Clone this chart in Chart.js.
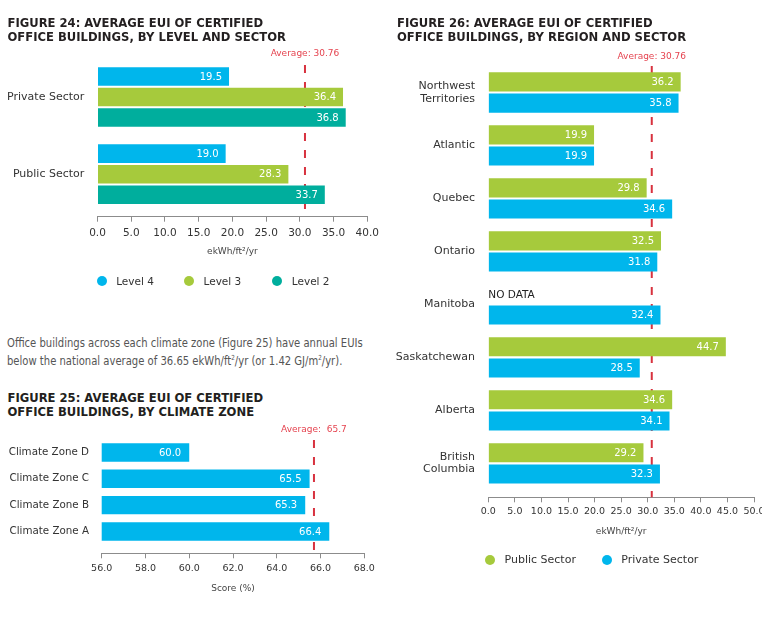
<!DOCTYPE html>
<html><head><meta charset="utf-8">
<script src="https://cdn.jsdelivr.net/npm/chart.js@4.4.1/dist/chart.umd.min.js"></script>
<style>
html,body{margin:0;padding:0;background:#fff;}
body{width:762px;height:642px;position:relative;overflow:hidden;font-family:'DejaVu Sans',sans-serif;}
canvas{position:absolute;}
.title{position:absolute;font-weight:bold;font-size:11.6px;line-height:14px;color:#231f20;letter-spacing:0;white-space:nowrap;z-index:2;}
.para{position:absolute;left:7px;top:333.5px;font-family:'DejaVu Sans Condensed','DejaVu Sans',sans-serif;font-size:12.5px;line-height:18.3px;color:#555;white-space:nowrap;z-index:2;transform:scaleX(0.892);transform-origin:0 0;}
.para sup{font-size:7px;vertical-align:5px;line-height:0;}
.lg{position:absolute;white-space:nowrap;color:#333;z-index:2;}
.dot{position:absolute;width:10px;height:10px;border-radius:50%;}
</style></head>
<body>
<canvas id="c24" width="380" height="300" style="left:0;top:0"></canvas>
<canvas id="c25" width="380" height="180" style="left:0;top:420px"></canvas>
<canvas id="c26" width="382" height="600" style="left:380px;top:0"></canvas>

<div class="title" style="left:7.5px;top:15.5px">FIGURE 24: AVERAGE EUI OF CERTIFIED<br>OFFICE BUILDINGS, BY LEVEL AND SECTOR</div>
<div class="title" style="left:397px;top:15.5px">FIGURE 26: AVERAGE EUI OF CERTIFIED<br>OFFICE BUILDINGS, BY REGION AND SECTOR</div>
<div class="title" style="left:7.5px;top:390.5px">FIGURE 25: AVERAGE EUI OF CERTIFIED<br>OFFICE BUILDINGS, BY CLIMATE ZONE</div>
<div class="para">Office buildings across each climate zone (Figure 25) have annual EUIs<br>below the national average of 36.65 ekWh/ft<sup>2</sup>/yr (or 1.42 GJ/m<sup>2</sup>/yr).</div>

<script>
// ---------- data ----------
const sectors = ['Private Sector', 'Public Sector'];
const levelNames = ['Level 4', 'Level 3', 'Level 2'];
const level4 = [19.5, 19.0];
const level3 = [36.4, 28.3];
const level2 = [36.8, 33.7];
const avg24 = 30.76;

const zones = ['Climate Zone D', 'Climate Zone C', 'Climate Zone B', 'Climate Zone A'];
const zoneScores = [60.0, 65.5, 65.3, 66.4];
const avg25 = 65.7;

const regions = [['Northwest', 'Territories'], 'Atlantic', 'Quebec', 'Ontario', 'Manitoba', 'Saskatchewan', 'Alberta', ['British', 'Columbia']];
const sectorNames = ['Public Sector', 'Private Sector'];
const publicSector = [36.2, 19.9, 29.8, 32.5, null, 44.7, 34.6, 29.2];
const privateSector = [35.8, 19.9, 34.6, 31.8, 32.4, 28.5, 34.1, 32.3];
const avg26 = 30.76;

const BLUE = '#00b6ec', GREEN = '#a6ca3c', TEAL = '#00ae9d';
const RED = '#d8323f', RED_TEXT = '#e5434f';
const FONT = 'DejaVu Sans';

// ---------- plugins ----------
const avgLine = {
  id: 'avgLine',
  beforeDatasetsDraw(chart, args, o) {
    const ctx = chart.ctx;
    const x = chart.scales.x.getPixelForValue(o.value);
    const {top, bottom} = chart.chartArea;
    ctx.save();
    ctx.strokeStyle = RED; ctx.lineWidth = 2; ctx.setLineDash([8, 9]);
    ctx.beginPath(); ctx.moveTo(x, top + o.start); ctx.lineTo(x, bottom); ctx.stroke();
    ctx.setLineDash([]);
    ctx.font = '9px "' + FONT + '"'; ctx.fillStyle = RED_TEXT;
    ctx.textAlign = 'center'; ctx.textBaseline = 'middle';
    ctx.fillText(o.label, x, top - o.labelOffset);
    ctx.restore();
  }
};
const valueLabels = {
  id: 'valueLabels',
  afterDatasetsDraw(chart, args, o) {
    const ctx = chart.ctx;
    ctx.save();
    ctx.textBaseline = 'middle';
    chart.data.datasets.forEach((ds, i) => {
      const meta = chart.getDatasetMeta(i);
      meta.data.forEach((bar, j) => {
        const v = ds.data[j];
        if (v === null || v === undefined) {
          if (o.noData && isFinite(bar.y)) {
            ctx.font = '10.5px "' + FONT + '"'; ctx.fillStyle = '#222'; ctx.textAlign = 'left';
            ctx.fillText(o.noData, chart.chartArea.left, bar.y + 1);
          }
          return;
        }
        ctx.font = '10px "' + FONT + '"'; ctx.fillStyle = '#fff'; ctx.textAlign = 'right';
        ctx.fillText(v.toFixed(1), bar.x - o.pad, bar.y + 0.5);
      });
    });
    ctx.restore();
  }
};

function xScale(min, max, step, tickSize, tickPad, height) {
  return {
    min, max,
    ticks: {stepSize: step, callback: v => Number(v).toFixed(1), font: {family: FONT, size: tickSize}, color: '#333', padding: tickPad, maxRotation: 0, autoSkip: false},
    grid: {drawOnChartArea: false, drawTicks: true, tickLength: 5, color: '#8c8c8c'},
    border: {display: true, color: '#8c8c8c'},
    title: {display: true, text: 'ekWh/ft²/yr', font: {family: FONT, size: 9}, color: '#444', padding: {top: 4, bottom: 4}},
    afterFit: s => { s.height = height; s.paddingLeft = 0; s.paddingRight = 0; }
  };
}
function yScale(size, pad, width, extra, lh) {
  return {
    grid: {display: false, drawTicks: false}, border: {display: false},
    ticks: {font: {family: FONT, size: size, lineHeight: lh || 1.2}, color: '#333', padding: pad, autoSkip: false},
    afterFit: s => { s.width = width; },
    afterBuildTicks: s => { s._valueRange += extra; }
  };
}
const base = {indexAxis: 'y', responsive: false, animation: false, events: []};

// ---------- Figure 24 ----------
new Chart(document.getElementById('c24'), {
  type: 'bar',
  data: {labels: sectors, datasets: [
    {label: levelNames[0], data: level4, backgroundColor: BLUE},
    {label: levelNames[1], data: level3, backgroundColor: GREEN},
    {label: levelNames[2], data: level2, backgroundColor: TEAL}
  ]},
  options: Object.assign({}, base, {
    layout: {padding: {left: 0, right: 12.7, top: 58.4, bottom: 38.6}},
    datasets: {bar: {categoryPercentage: 0.8, barPercentage: 0.9}},
    plugins: {legend: {display: false}, tooltip: {enabled: false},
      avgLine: {value: avg24, label: 'Average: ' + avg24, start: 6.6, labelOffset: 4.4},
      valueLabels: {pad: 7}},
    scales: {x: xScale(0, 40, 5, 10.5, 5, 44.7), y: yScale(11, 13.2, 97.5, 0.05)}
  }),
  plugins: [avgLine, valueLabels]
});

// ---------- Figure 25 ----------
const x25 = xScale(56, 68, 2, 9.5, 5, 44.4);
x25.title.text = 'Score (%)';
new Chart(document.getElementById('c25'), {
  type: 'bar',
  data: {labels: zones, datasets: [{label: 'Score', data: zoneScores, backgroundColor: BLUE}]},
  options: Object.assign({}, base, {
    layout: {padding: {left: 0, right: 15.7, top: 19.3, bottom: 2.3}},
    datasets: {bar: {categoryPercentage: 1.0, barPercentage: 0.7}},
    plugins: {legend: {display: false}, tooltip: {enabled: false},
      avgLine: {value: avg25, label: 'Average:  ' + avg25, start: 0.7, labelOffset: 9.3},
      valueLabels: {pad: 8}},
    scales: {x: x25, y: yScale(10.3, 12.7, 101.7, 0.33)}
  }),
  plugins: [avgLine, valueLabels]
});

// ---------- Figure 26 ----------
new Chart(document.getElementById('c26'), {
  type: 'bar',
  data: {labels: regions, datasets: [
    {label: sectorNames[0], data: publicSector, backgroundColor: GREEN},
    {label: sectorNames[1], data: privateSector, backgroundColor: BLUE}
  ]},
  options: Object.assign({}, base, {
    layout: {padding: {left: 0, right: 8, top: 66, bottom: 58.9}},
    datasets: {bar: {categoryPercentage: 0.8, barPercentage: 0.9}},
    plugins: {legend: {display: false}, tooltip: {enabled: false},
      avgLine: {value: avg26, label: 'Average: ' + avg26, start: 0, labelOffset: 9.3},
      valueLabels: {pad: 7, noData: 'NO DATA'}},
    scales: {x: xScale(0, 50, 5, 9.5, 3.7, 43.8), y: yScale(11, 13.3, 108.3, 0.14, 1.12)}
  }),
  plugins: [avgLine, valueLabels]
});

// ---------- HTML legends ----------
function legend(names, colors, centers, cy, size) {
  names.forEach((n, i) => {
    const d = document.createElement('div');
    d.className = 'dot';
    d.style.left = (centers[i] - 5) + 'px'; d.style.top = (cy - 5) + 'px';
    d.style.background = colors[i];
    document.body.appendChild(d);
    const t = document.createElement('div');
    t.className = 'lg';
    t.textContent = n;
    t.style.fontSize = size + 'px';
    t.style.left = (centers[i] + 14.5) + 'px';
    t.style.top = (cy - 8) + 'px'; t.style.lineHeight = '16px';
    document.body.appendChild(t);
  });
}
legend(levelNames, [BLUE, GREEN, TEAL], [101.7, 189, 277.3], 281, 10.5);
legend(sectorNames, [GREEN, BLUE], [490, 606.7], 560, 11);
</script>
</body></html>
